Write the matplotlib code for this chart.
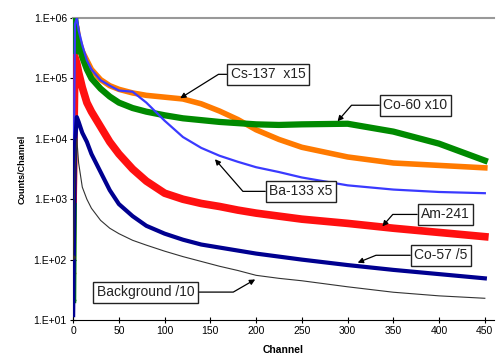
import numpy as np
from matplotlib import pyplot as plt
from matplotlib.ticker import FixedLocator, FuncFormatter

plt.rcParams['font.family'] = ['Liberation Sans', 'DejaVu Sans']

# channel grid; series are log10(counts/channel)
channels = [0, 2, 4, 6, 10, 15, 20, 30, 40, 50, 65, 80, 100, 120, 140, 160, 180, 200,
            225, 250, 300, 350, 400, 450]

cs137 = [1.78, 5.95, 5.85, 5.65, 5.45, 5.3, 5.15, 4.98, 4.88, 4.82, 4.76, 4.72, 4.69, 4.66,
         4.58, 4.46, 4.32, 4.15, 3.99, 3.86, 3.7, 3.6, 3.56, 3.52]
co60 = [1.33, 6.0, 5.75, 5.55, 5.35, 5.15, 5.0, 4.83, 4.7, 4.6, 4.51, 4.45, 4.39, 4.34,
        4.31, 4.28, 4.26, 4.24, 4.23, 4.24, 4.25, 4.12, 3.92, 3.64]
ba133 = [2.2, 5.9, 6.0, 5.8, 5.55, 5.3, 5.15, 4.97, 4.88, 4.8, 4.78, 4.6, 4.3, 4.03,
         3.85, 3.72, 3.62, 3.53, 3.45, 3.36, 3.23, 3.16, 3.12, 3.1]
am241 = [3.0, 5.35, 5.25, 5.1, 4.85, 4.6, 4.45, 4.2, 3.95, 3.75, 3.5, 3.3, 3.1, 3.0,
         2.93, 2.88, 2.82, 2.77, 2.72, 2.67, 2.6, 2.52, 2.45, 2.38]
co57 = [1.08, 3.9, 4.36, 4.28, 4.1, 3.95, 3.75, 3.45, 3.15, 2.92, 2.72, 2.56, 2.43, 2.33,
        2.25, 2.2, 2.15, 2.1, 2.05, 2.0, 1.91, 1.83, 1.76, 1.69]
background = [2.04, 3.5, 4.0, 3.6, 3.2, 3.0, 2.85, 2.65, 2.52, 2.43, 2.32, 2.24, 2.14, 2.05,
              1.97, 1.89, 1.82, 1.74, 1.69, 1.65, 1.55, 1.46, 1.4, 1.36]

xticks = [0, 50, 100, 150, 200, 250, 300, 350, 400, 450]
yticks = [1e1, 1e2, 1e3, 1e4, 1e5, 1e6]

fig = plt.figure(figsize=(5.01, 3.54), dpi=100)
ax = fig.add_axes([0.146, 0.096, 0.84, 0.853])

def counts(logs):
    return 10 ** np.array(logs)

ax.plot(channels, counts(cs137), color='#ff7a00', lw=4.0, marker='D', ms=2.5, markevery=[0], zorder=2)
ax.plot(channels, counts(co60), color='#008a00', lw=4.5, marker='D', ms=2.5, markevery=[0], zorder=3)
ax.plot(channels, counts(ba133), color='#3a3aff', lw=1.6, zorder=4)
ax.plot(channels, counts(am241), color='#ff1010', lw=5.5, marker='x', ms=3, markevery=[0], zorder=3)
ax.plot(channels, counts(co57), color='#000090', lw=3.0, zorder=4)
ax.plot(channels, counts(background), color='#333333', lw=0.8, marker='D', ms=2, markevery=[0], zorder=5)

ax.set_yscale('log')
ax.set_ylim(10, 1e6)
ax.set_xlim(0, 460)
ax.yaxis.set_major_locator(FixedLocator(yticks))
ax.yaxis.set_minor_locator(FixedLocator([]))
ax.yaxis.set_major_formatter(FuncFormatter(lambda v, p: '1.E+%02d' % int(round(np.log10(v)))))
ax.set_xticks(xticks)
ax.tick_params(axis='both', labelsize=7.5, direction='inout', length=5, width=0.8, pad=2)

ax.spines['right'].set_color('none')
ax.spines['top'].set_color('#999999')
ax.spines['top'].set_linewidth(1.5)

ax.set_ylabel('Counts/Channel', fontsize=6.5, fontweight='bold', labelpad=5)
ax.set_xlabel('Channel', fontsize=7.5, fontweight='bold', labelpad=6)

# labelled boxes with bent arrows
box = dict(boxstyle='square,pad=0.25', fc='white', ec='#222222', lw=1)
arr = dict(arrowstyle='-|>', color='black', lw=0.9, mutation_scale=8, shrinkA=0, shrinkB=0)

labels = [
    ('Cs-137  x15', (213, 1.17e5), (117, 4.7e4), 32),
    ('Co-60 x10', (374, 3.6e4), (289, 1.95e4), 49),
    ('Ba-133 x5', (249, 1.35e3), (155, 4.6e3), -49),
    ('Am-241', (407, 560), (338, 355), 49),
    ('Co-57 /5', (402, 118), (311, 89), 22),
    ('Background /10', (79, 29), (199, 47), 30),
]
for txt, pos, target, ang in labels:
    a = dict(arr)
    a['connectionstyle'] = 'angle,angleA=0,angleB=%d,rad=0' % ang
    ax.annotate(txt, xy=target, xytext=pos, fontsize=10, ha='center', va='center',
                color='#222222', bbox=box, arrowprops=a, zorder=6)

fig.savefig('out.png', dpi=100)
